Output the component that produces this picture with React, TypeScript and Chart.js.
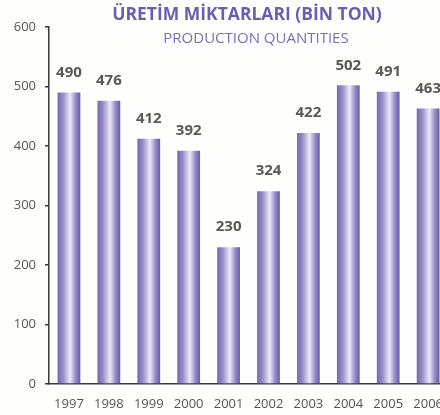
import React, { useEffect, useRef } from "react";
import { Chart, registerables } from "chart.js";

Chart.register(...registerables);

const years = ["1997", "1998", "1999", "2000", "2001", "2002", "2003", "2004", "2005", "2006"];
const production = [490, 476, 412, 392, 230, 324, 422, 502, 491, 463];
const yTicks = [0, 100, 200, 300, 400, 500, 600];
const titleText = "ÜRETİM MİKTARLARI (BİN TON)";
const subtitleText = "PRODUCTION QUANTITIES";

const FONT = "'Open Sans', 'Noto Sans', sans-serif";
const BAR_FRACTION = 0.57;

export default function App() {
  const ref = useRef<HTMLCanvasElement | null>(null);

  useEffect(() => {
    if (!ref.current) return;
    const labelPlugin = {
      id: "labelsAndTitle",
      afterDatasetsDraw(chart: any) {
        const ctx = chart.ctx;
        const meta = chart.getDatasetMeta(0);
        ctx.save();
        ctx.fillStyle = "#595959";
        ctx.font = `bold 15px ${FONT}`;
        ctx.textAlign = "center";
        ctx.textBaseline = "middle";
        meta.data.forEach((bar: any, i: number) => {
          ctx.fillText(String(production[i]), bar.x, bar.y - 20);
        });
        const cx = 247;
        ctx.fillStyle = "#6a5eae";
        ctx.font = `bold 17.5px ${FONT}`;
        ctx.fillText(titleText, cx, 15);
        ctx.fillStyle = "#7a6fbb";
        ctx.font = `15px ${FONT}`;
        ctx.fillText(subtitleText, cx + 9, 39);
        ctx.restore();
      },
    };

    const chart = new Chart(ref.current, {
      type: "bar",
      data: {
        labels: years,
        datasets: [
          {
            data: production,
            categoryPercentage: 1,
            barPercentage: BAR_FRACTION,
            borderWidth: 0,
            backgroundColor: (c: any) => {
              const ch = c.chart;
              const xs = ch.scales && ch.scales.x;
              if (!ch.chartArea || !xs || c.dataIndex === undefined) return "#7b70b8";
              const center = xs.getPixelForValue(c.dataIndex);
              const half = (xs.width / years.length) * BAR_FRACTION / 2;
              const g = ch.ctx.createLinearGradient(center - half, 0, center + half, 0);
              g.addColorStop(0, "#7466b2");
              g.addColorStop(0.25, "#9a90c8");
              g.addColorStop(0.55, "#ece9f7");
              g.addColorStop(0.8, "#9489c6");
              g.addColorStop(1, "#6a5baa");
              return g;
            },
          },
        ],
      },
      options: {
        animation: false,
        responsive: false,
        maintainAspectRatio: false,
        layout: { padding: { top: 27, right: 0, left: 0, bottom: 0 } },
        plugins: { legend: { display: false }, tooltip: { enabled: false }, title: { display: false } },
        scales: {
          x: {
            grid: { display: false, drawTicks: false },
            border: { display: true, color: "#3a3a3a", width: 1.5 },
            ticks: { color: "#555", font: { family: FONT, size: 13 }, padding: 12, maxRotation: 0, autoSkip: false },
            afterFit: (s: any) => { s.height = 31; },
          },
          y: {
            min: 0,
            max: 600,
            afterBuildTicks: (s: any) => { s.ticks = yTicks.map((v) => ({ value: v })); },
            grid: { display: true, drawOnChartArea: false, drawTicks: true, tickLength: 4, color: "#3a3a3a", lineWidth: 1.5 },
            border: { display: true, color: "#3a3a3a", width: 1.5 },
            ticks: { color: "#555", font: { family: FONT, size: 13 }, padding: 9 },
            afterFit: (s: any) => { s.width = 49; },
          },
        },
      },
      plugins: [labelPlugin],
    } as any);
    return () => chart.destroy();
  }, []);

  return (
    <div style={{ position: "fixed", left: 0, top: 0, width: 440, height: 415, overflow: "hidden", background: "#fefefc" }}>
      <canvas ref={ref} width={455} height={415} style={{ display: "block", width: 455, height: 415 }} />
    </div>
  );
}
